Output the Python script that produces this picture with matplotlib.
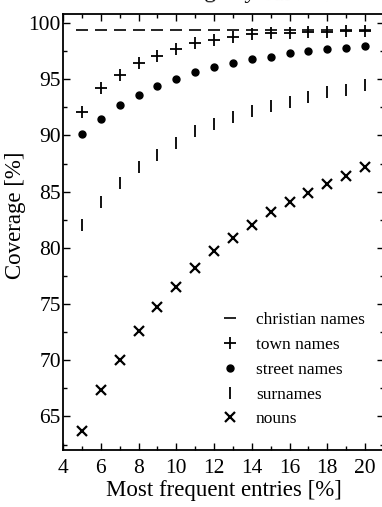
import matplotlib
matplotlib.use("Agg")
import matplotlib.pyplot as plt
from matplotlib.ticker import MultipleLocator

# Data
entries = [5, 6, 7, 8, 9, 10, 11, 12, 13, 14, 15, 16, 17, 18, 19, 20]
christian = [99.35] * 16
town = [92.1, 94.2, 95.4, 96.4, 97.1, 97.7, 98.2, 98.5, 98.75, 99.0,
        99.1, 99.15, 99.2, 99.2, 99.25, 99.25]
street = [90.1, 91.5, 92.7, 93.6, 94.4, 95.0, 95.6, 96.1, 96.4, 96.8,
          97.0, 97.3, 97.5, 97.65, 97.8, 97.95]
surnames = [82.0, 84.05, 85.8, 87.2, 88.3, 89.35, 90.4, 91.05, 91.6, 92.2,
            92.65, 92.95, 93.4, 93.85, 94.0, 94.45]
nouns = [63.7, 67.4, 70.0, 72.6, 74.7, 76.5, 78.2, 79.7, 80.9, 82.05,
         83.15, 84.05, 84.85, 85.7, 86.4, 87.2]

plt.rcParams['font.family'] = 'Liberation Serif'

fig = plt.figure(figsize=(3.82, 5.07), dpi=100)
ax = fig.add_axes([0.165, 0.112, 0.84, 0.86])

ax.plot(entries, christian, ls='none', marker='_', ms=9, mew=1.2, color='black', label='christian names')
ax.plot(entries, town, ls='none', marker='+', ms=8, mew=1.3, color='black', label='town names')
ax.plot(entries, street, ls='none', marker='o', ms=5, color='black', label='street names')
ax.plot(entries, surnames, ls='none', marker='|', ms=8, mew=1.3, color='black', label='surnames')
ax.plot(entries, nouns, ls='none', marker='x', ms=7, mew=1.6, color='black', label='nouns')

ax.set_xlim(4, 21)
ax.set_ylim(62.0, 100.78)
ax.xaxis.set_minor_locator(MultipleLocator(1))
ax.yaxis.set_major_locator(MultipleLocator(5))
ax.yaxis.set_minor_locator(MultipleLocator(2.5))
ax.set_xticks(range(4, 21, 2))
ax.tick_params(which='both', direction='in', top=True, right=True, labelsize=15.5, width=1)
ax.tick_params(which='major', length=5)
ax.tick_params(which='minor', length=3)
ax.tick_params(axis='y', pad=1.5)
ax.tick_params(axis='x', pad=6)
for s in ax.spines.values():
    s.set_linewidth(1.3)

ax.set_xlabel("Most frequent entries [%]", fontsize=16.5, labelpad=2)
ax.set_ylabel("Coverage [%]", fontsize=16.5)
ax.yaxis.set_label_coords(-0.115, 0.54)

ax.legend(loc='upper left', bbox_to_anchor=(0.487, 0.317), frameon=False,
          fontsize=12.5, handlelength=1.2, handletextpad=0.9, labelspacing=0.5,
          borderaxespad=0, borderpad=0)

# title of the scanned page, mostly cut off by the crop
fig.text(0.864, 1.0 + 1 / 507, "Coverage by curves.", fontsize=17, ha='right',
         va='baseline', rotation=-1, rotation_mode='anchor')

fig.savefig("out.png", dpi=100)
